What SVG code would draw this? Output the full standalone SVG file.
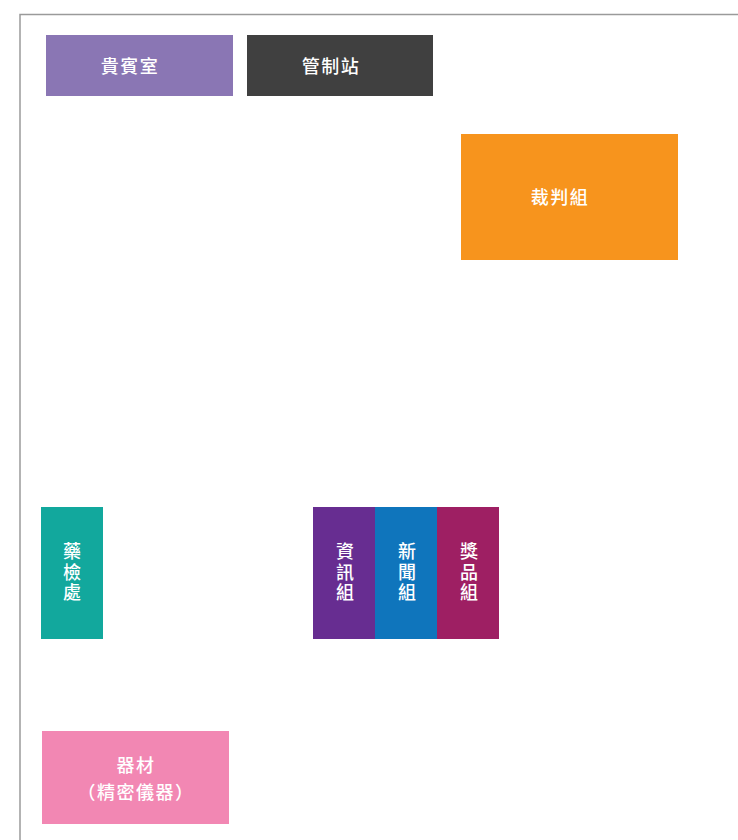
<svg xmlns="http://www.w3.org/2000/svg" width="738" height="840" viewBox="0 0 738 840">
<style>
text{font-family:"Noto Sans CJK TC","Noto Sans CJK SC",sans-serif;font-size:18px;font-weight:500;fill:#fff;text-anchor:middle;dominant-baseline:central;letter-spacing:1.5px}
text.v{writing-mode:vertical-rl;letter-spacing:2.5px}
</style>
<rect width="738" height="840" fill="#fff"/>
<path d="M20 840 V14.5 H738" fill="none" stroke="#9a9a9a" stroke-width="1.5"/>
<g id="guest"><rect x="46" y="35" width="187" height="61" fill="#8a76b4"/><text x="130" y="65">貴賓室</text></g>
<g id="control"><rect x="247" y="35" width="186" height="61" fill="#404040"/><text x="331" y="65">管制站</text></g>
<g id="referee"><rect x="461" y="134" width="217" height="126" fill="#f7941d"/><text x="560" y="196">裁判組</text></g>
<g id="doping"><rect x="41" y="507" width="62" height="132" fill="#12a89d"/><text class="v" x="72" y="573">藥檢處</text></g>
<g id="info"><rect x="313" y="507" width="62" height="132" fill="#672d91"/><text class="v" x="345" y="573">資訊組</text></g>
<g id="news"><rect x="375" y="507" width="62" height="132" fill="#0f75bc"/><text class="v" x="407" y="573">新聞組</text></g>
<g id="prize"><rect x="437" y="507" width="62" height="132" fill="#9e1f63"/><text class="v" x="469" y="573">獎品組</text></g>
<g id="equipment"><rect x="42" y="731" width="187" height="93" fill="#f287b3"/><text x="136" y="764">器材</text><text x="136" y="791">（精密儀器）</text></g>
<g id="connectors"></g>
</svg>
